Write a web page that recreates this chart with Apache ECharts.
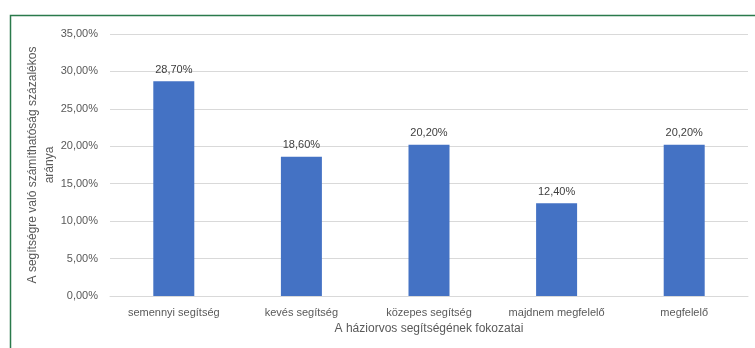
<!DOCTYPE html>
<html>
<head>
<meta charset="utf-8">
<script src="https://cdn.jsdelivr.net/npm/echarts@6/dist/echarts.min.js"></script>
<style>
    html, body { margin: 0; padding: 0; background: #fff; }
    #chart { width: 755px; height: 348px; }
</style>
</head>
<body>
<div id="chart"></div>
<script>
const categories = ['semennyi segítség', 'kevés segítség', 'közepes segítség', 'majdnem megfelelő', 'megfelelő'];
const values = [28.7, 18.6, 20.2, 12.4, 20.2];

const xName = 'A háziorvos segítségének fokozatai';
const yNameLines = ['A segítségre való számíthatóság százalékos', 'aránya'];

// 28.7 -> "28,70%"
function pct(v) {
    return v.toFixed(2).replace('.', ',') + '%';
}

const font = '"Liberation Sans", "DejaVu Sans", sans-serif';

// y axis title: one rotated text per line, centred on the plot height
const yTitle = yNameLines.map((line, i) => ({
    type: 'text',
    x: 33 + i * 17,
    y: 165,
    rotation: Math.PI / 2,
    style: {
        text: line,
        fill: '#595959',
        font: '12px ' + font,
        align: 'center',
        verticalAlign: 'middle'
    },
    silent: true
}));

const myChart = echarts.init(document.getElementById('chart'));
const option = {
    backgroundColor: '#fff',
    animation: false,
    textStyle: { fontFamily: font },
    graphic: [{
        type: 'rect',
        left: 8,
        top: 13,
        shape: { width: 760, height: 350 },
        style: { fill: 'none', stroke: '#2a7a4b', lineWidth: 1.5 },
        silent: true
    }].concat(yTitle),
    grid: { left: 110, right: 7, top: 34, bottom: 52 },
    xAxis: {
        type: 'category',
        data: categories,
        name: xName,
        nameLocation: 'middle',
        nameGap: 25,
        nameTextStyle: { color: '#595959', fontSize: 12, fontFamily: font },
        axisLine: { lineStyle: { color: '#d9d9d9', width: 1 } },
        axisTick: { show: false },
        axisLabel: { color: '#595959', fontSize: 11, margin: 11, fontFamily: font }
    },
    yAxis: {
        type: 'value',
        min: 0,
        max: 35,
        interval: 5,
        axisLine: { show: false },
        axisTick: { show: false },
        axisLabel: { color: '#595959', fontSize: 11, margin: 12, formatter: v => pct(v), fontFamily: font },
        splitLine: { lineStyle: { color: '#d9d9d9', width: 1 } }
    },
    series: [{
        type: 'bar',
        data: values,
        barWidth: 41,
        itemStyle: { color: '#4472c4' },
        label: {
            show: true,
            position: 'top',
            distance: 6,
            color: '#404040',
            fontSize: 11,
            fontFamily: font,
            formatter: p => pct(p.value)
        }
    }]
};
myChart.setOption(option);
</script>
</body>
</html>
